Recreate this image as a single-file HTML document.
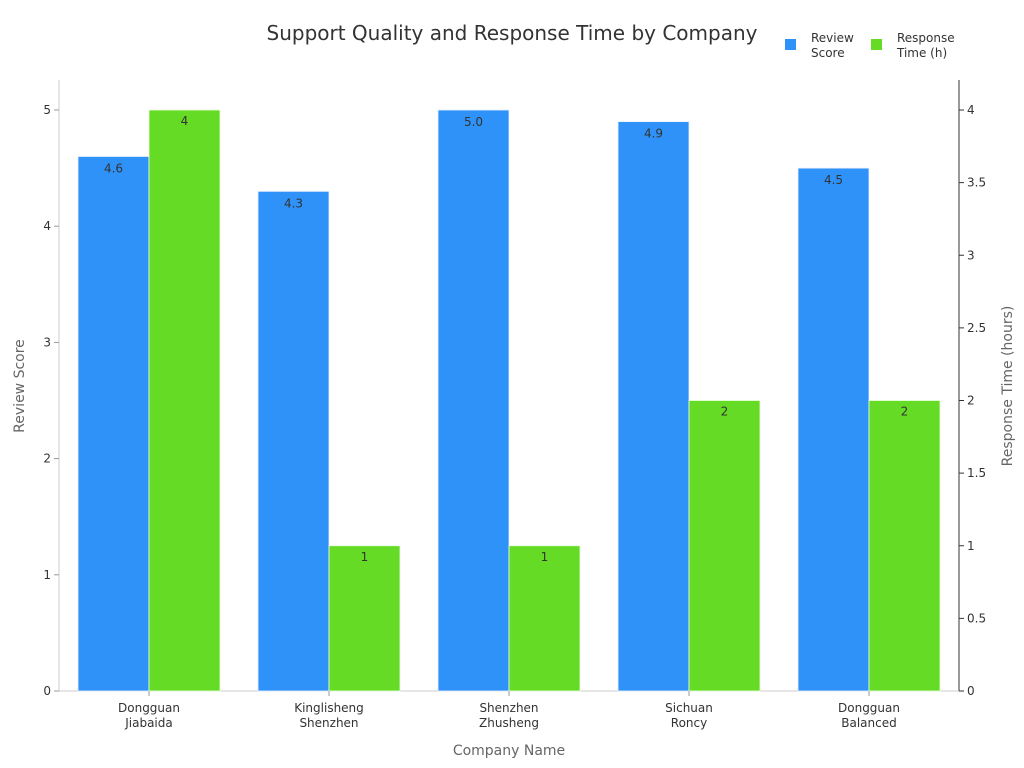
<!DOCTYPE html>
<html><head><meta charset="utf-8"><style>
body{margin:0;background:#fff;}
svg{display:block;font-family:"DejaVu Sans","Liberation Sans",sans-serif;}
</style></head><body>
<svg id="chart" width="1024" height="768">
<text x="512" y="40" text-anchor="middle" font-size="20" fill="#333">Support Quality and Response Time by Company</text>
<g>
<rect x="785" y="39" width="11" height="11" fill="#2f92f8"/>
<text x="811" y="42" font-size="12" fill="#333"><tspan x="811">Review</tspan><tspan x="811" dy="15">Score</tspan></text>
<rect x="871" y="39" width="11" height="11" fill="#66db26"/>
<text x="897" y="42" font-size="12" fill="#333"><tspan x="897">Response</tspan><tspan x="897" dy="15">Time (h)</tspan></text>
</g>
<text transform="translate(24,386) rotate(-90)" text-anchor="middle" font-size="14" fill="#666">Review Score</text>
<text transform="translate(1012,386) rotate(-90)" text-anchor="middle" font-size="14" fill="#666">Response Time (hours)</text>
<text x="509" y="755" text-anchor="middle" font-size="14" fill="#666">Company Name</text>
</svg>
<script>
const categories=[["Dongguan","Jiabaida"],["Kinglisheng","Shenzhen"],["Shenzhen","Zhusheng"],["Sichuan","Roncy"],["Dongguan","Balanced"]];
const reviewScores=[4.6,4.3,5.0,4.9,4.5];
const responseTimes=[4,1,1,2,2];
const leftTicks=[0,1,2,3,4,5];
const rightTicks=[0,0.5,1,1.5,2,2.5,3,3.5,4];
const svg=document.getElementById('chart');
const NS='http://www.w3.org/2000/svg';
const x0=59,x1=959,yb=691,yt=110;
const yL=v=>yb-(yb-yt)*v/5;
const yR=v=>yb-(yb-yt)*v/4;
const step=(x1-x0)/categories.length;
const xc=i=>x0+step*(i+0.5);
function mk(tag,attrs,txt){const e=document.createElementNS(NS,tag);for(const k in attrs)e.setAttribute(k,attrs[k]);if(txt!==undefined)e.textContent=txt;svg.appendChild(e);return e;}
let e;
e=mk('line',{x1:x0,y1:80,x2:x0,y2:yb,stroke:'#ccc'});


e=mk('line',{x1:x1,y1:80,x2:x1,y2:yb,stroke:'#333'});


e=mk('line',{x1:x0,y1:yb,x2:x1,y2:yb,stroke:'#ccc'});


leftTicks.forEach(t=>{
 mk('line',{x1:x0-5,y1:yL(t),x2:x0,y2:yL(t),stroke:'#999'});
 e=mk('text',{x:x0-8,y:yL(t)+4,'text-anchor':'end','font-size':12,fill:'#333'},String(t));
 
 
});
rightTicks.forEach(t=>{
 mk('line',{x1:x1,y1:yR(t),x2:x1+5,y2:yR(t),stroke:'#333'});
 e=mk('text',{x:x1+8,y:yR(t)+4,'font-size':12,fill:'#333'},String(t));
 
 
});
const bw=71;
categories.forEach((c,i)=>{
 const cx=xc(i);
 e=mk('rect',{x:cx-bw,y:yL(reviewScores[i]),width:bw,height:yb-yL(reviewScores[i]),fill:'#2f92f8',stroke:'#e8f0ff','stroke-width':0.8});
 
 
 e=mk('rect',{x:cx,y:yR(responseTimes[i]),width:bw,height:yb-yR(responseTimes[i]),fill:'#66db26',stroke:'#eaffdf','stroke-width':0.8});
 
 
 e=mk('text',{x:cx-bw/2,y:yL(reviewScores[i])+16,'text-anchor':'middle','font-size':12,fill:'#333'},reviewScores[i].toFixed(1));
 
 
 e=mk('text',{x:cx+bw/2,y:yR(responseTimes[i])+15,'text-anchor':'middle','font-size':12,fill:'#333'},String(responseTimes[i]));
 
 
 mk('line',{x1:cx,y1:yb,x2:cx,y2:yb+5,stroke:'#999'});
 e=mk('text',{x:cx,y:yb+21,'text-anchor':'middle','font-size':12,fill:'#333'});
 
 
 c.forEach((line,j)=>{const t=document.createElementNS(NS,'tspan');t.setAttribute('x',cx);t.setAttribute('dy',j?15:0);t.textContent=line;e.appendChild(t);});
});
</script>
</body></html>
